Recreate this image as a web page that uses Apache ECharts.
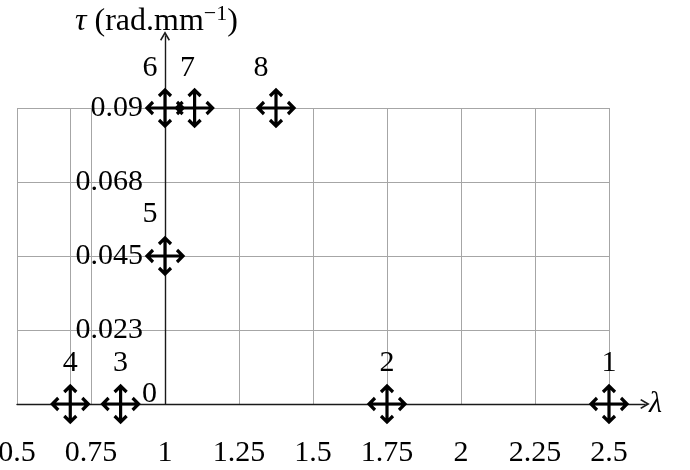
<!DOCTYPE html>
<html>
<head>
<meta charset="utf-8">
<script src="https://cdn.jsdelivr.net/npm/echarts@6/dist/echarts.min.js"></script>
<style>
html,body{margin:0;padding:0;background:#fff;}
#chart{width:690px;height:470px;}
</style>
</head>
<body>
<div id="chart"></div>
<script>
// ---- data ----
const pointNames   = ['1', '2', '3', '4', '5', '6', '7', '8'];
const lambdaValues = [2.5, 1.75, 0.85, 0.68, 1, 1, 1.1, 1.375];
const tauValues    = [0, 0, 0, 0, 0.045, 0.09, 0.09, 0.09];
const xTickLabels  = ['0.5', '0.75', '1', '1.25', '1.5', '1.75', '2', '2.25', '2.5'];
const yTickLabels  = ['0', '0.023', '0.045', '0.068', '0.09'];
const extraGridLambda = 0.68;
const xName = 'λ';
const yNameUnit = '(rad.mm';

// ---- styles ----
const FONT = 'Liberation Serif';
const FS = 30;
const TITLE_FS = 32;
const GRID_COLOR = '#a6a6a6';
const AXIS_COLOR = '#1a1a1a';
const labelOffsets = { '5': [-15, -42], '6': [-15, -40], '7': [-7, -40], '8': [-15, -40] };
const markerPath = 'path://M18 0 L18 36 M0 18 L36 18 M12 6 Q15 3 18 0 Q21 3 24 6 M12 30 Q15 33 18 36 Q21 33 24 30 M6 12 Q3 15 0 18 Q3 21 6 24 M30 12 Q33 15 36 18 Q33 21 30 24';
const arrowHead = 'path://M5 0 L10 8.6 L8.7 9.6 L5 3.4 L1.3 9.6 L0 8.6 Z';

const chart = echarts.init(document.getElementById('chart'), null, { renderer: 'canvas' });

const option = {
  animation: false,
  backgroundColor: '#fff',
  grid: [
    { left: 17, right: 81, top: 108, bottom: 66, containLabel: false, outerBoundsMode: 'none' },
    { left: 17, right: 45, top: 36, bottom: 66, containLabel: false, outerBoundsMode: 'none' }
  ],
  xAxis: [
    {
      gridIndex: 0, type: 'value', min: 0.5, max: 2.5, interval: 0.25,
      axisLine: { show: false }, axisTick: { show: false },
      splitLine: { show: true, lineStyle: { color: GRID_COLOR, width: 1 } },
      axisLabel: {
        margin: 34, color: '#000', fontFamily: FONT, fontSize: FS,
        formatter: v => xTickLabels[Math.round((v - 0.5) / 0.25)] || ''
      }
    },
    {
      gridIndex: 1, type: 'value', min: 0.5, max: 0.5 + 628 / 296 * 1.0,
      axisLine: { show: true, onZero: false, symbol: ['none', arrowHead], symbolSize: [10, 10],
        lineStyle: { color: AXIS_COLOR, width: 1.4 } },
      axisTick: { show: false }, axisLabel: { show: false }, splitLine: { show: false },
      name: xName, nameLocation: 'end', nameGap: 4,
      nameTextStyle: { color: '#000', fontFamily: FONT, fontSize: FS, fontStyle: 'italic', padding: [16, 0, 0, 0] }
    }
  ],
  yAxis: [
    {
      gridIndex: 0, type: 'value', min: 0, max: 0.09, interval: 0.0225, offset: -148,
      axisLine: { show: false, onZero: false }, axisTick: { show: false },
      splitLine: { show: true, lineStyle: { color: GRID_COLOR, width: 1 } },
      axisLabel: {
        margin: 22, color: '#000', fontFamily: FONT, fontSize: FS,
        formatter: v => { const i = Math.round(v / 0.0225); return i === 0 ? '' : (yTickLabels[i] || ''); }
      }
    },
    {
      gridIndex: 1, type: 'value', min: 0, max: 0.09 * 368 / 296, offset: -148,
      axisLine: { show: true, onZero: false, symbol: ['none', arrowHead], symbolSize: [10, 10],
        lineStyle: { color: AXIS_COLOR, width: 1.4 } },
      axisTick: { show: false }, axisLabel: { show: false }, splitLine: { show: false },
      name: '{t|τ} ' + yNameUnit + '{s|−1}' + ')', nameLocation: 'end', nameGap: -4,
      nameTextStyle: {
        color: '#000', fontFamily: FONT, fontSize: TITLE_FS, padding: [0, 17, 0, 0],
        rich: {
          t: { fontFamily: FONT, fontSize: TITLE_FS, fontStyle: 'italic', color: '#000' },
          s: { fontFamily: FONT, fontSize: 22, color: '#000', padding: [0, 0, 15, 0] }
        }
      }
    }
  ],
  series: [
    {
      type: 'scatter', xAxisIndex: 0, yAxisIndex: 0, clip: false, z: 5,
      symbol: markerPath, symbolSize: 36, symbolKeepAspect: true,
      itemStyle: { color: 'rgba(0,0,0,0)', borderColor: '#000', borderWidth: 3.2, opacity: 1 },
      emphasis: { disabled: true },
      label: {
        show: true, position: 'inside', formatter: '{b}',
        color: '#000', fontFamily: FONT, fontSize: FS, opacity: 1
      },
      data: pointNames.map((n, i) => ({
        name: n,
        value: [lambdaValues[i], tauValues[i]],
        label: { offset: labelOffsets[n] || [0, -41] }
      })),
      markLine: {
        silent: true, symbol: 'none', label: { show: false },
        lineStyle: { color: GRID_COLOR, type: 'solid', width: 1, opacity: 1 },
        emphasis: { disabled: true },
        data: [{ xAxis: extraGridLambda }]
      }
    }
  ]
};

chart.setOption(option);

// tick label "0" sits at the corner, placed from the axis origin
const origin = chart.convertToPixel({ gridIndex: 0 }, [1, 0]);
chart.setOption({
  graphic: [{
    type: 'text', x: origin[0] - 15.5, y: origin[1] - 10, z: 10,
    style: { text: yTickLabels[0], font: FS + 'px "' + FONT + '"', fill: '#000', align: 'center', verticalAlign: 'middle' }
  }]
});
</script>
</body>
</html>
